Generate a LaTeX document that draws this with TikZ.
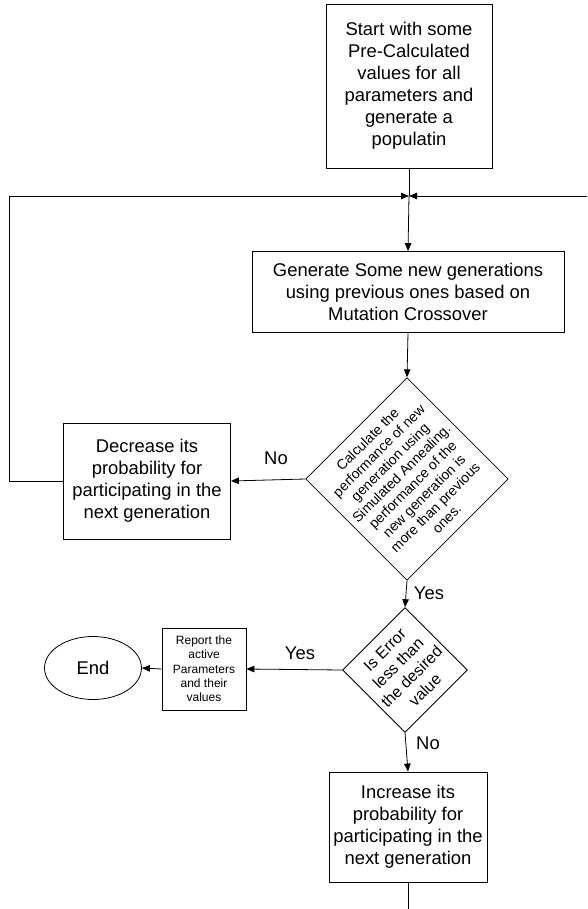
\documentclass[tikz,border=0pt]{standalone}
\usepackage{fontspec}
\setmainfont{Liberation Sans}
\usepackage{tikz}
\usetikzlibrary{arrows.meta, calc, shapes.geometric, positioning}

\tikzset{
  flowbox/.style={draw, line width=0.8pt, align=center, inner sep=2pt},
  decision/.style={draw, line width=0.8pt, rectangle, rotate=45, align=center, inner sep=0pt},
  flowarrow/.style={line width=0.8pt, -{Triangle[length=8pt, width=6.5pt]}},
  flowline/.style={line width=0.8pt},
  bigtext/.style={font=\fontsize{18.4}{22}\selectfont},
}

\begin{document}
\begin{tikzpicture}[x=1pt, y=-1pt]
\useasboundingbox (0,0) rectangle (587,909);
\node[flowbox, bigtext, minimum width=166, minimum height=164] (start) at (409,86)
  {Start with some\\Pre-Calculated\\values for all\\parameters and\\generate a\\populatin};
\node[flowbox, bigtext, minimum width=312, minimum height=81] (generate) at (408,292)
  {Generate Some new generations\\using previous ones based on\\Mutation Crossover};
\node[decision, minimum width=143, minimum height=143, font=\fontsize{14}{16}\selectfont] (calc) at (407,479)
  {Calculate the\\performance of new\\generation using\\Simulated Annealing.\\performance of the\\new generation is\\more than previous\\ones.};
\node[flowbox, bigtext, minimum width=167, minimum height=116] (decrease) at (147,481)
  {Decrease its\\probability for\\participating in the\\next generation};
\node[decision, minimum width=88, minimum height=88, font=\fontsize{16}{19}\selectfont] (test) at (405,670)
  {Is Error\\less than\\the desired\\value};
\node[flowbox, minimum width=84, minimum height=82, font=\fontsize{12}{14.3}\selectfont] (report) at (204,669)
  {Report the\\active\\Parameters\\and their\\values};
\node[draw, line width=0.8pt, ellipse, bigtext, minimum width=97, minimum height=63] (end) at (93,668) {End};
\node[flowbox, bigtext, minimum width=158, minimum height=110] (increase) at (408,827)
  {Increase its\\probability for\\participating in the\\next generation};

\node[bigtext] (nocalc) at (276,458) {No};
\node[bigtext] (yescalc) at (429,593) {Yes};
\node[bigtext] (yestest) at (300,653) {Yes};
\node[bigtext] (notest) at (428,743) {No};

\coordinate (join) at (409,196);
\coordinate (loopleft) at (9,196);
\coordinate (loopright) at (587,196);
\coordinate (loopdown) at (408,909);

\draw[flowline] (start.south) -- (join);
\draw[flowarrow] (decrease.west) -| (loopleft) -- (join);
\draw[flowarrow] (loopright) -- (join);
\draw[flowarrow] (join) -- (generate.north);
\draw[flowarrow] (generate.south) -- (calc.north east);
\draw[flowarrow] (calc.north west) -- (decrease.east);
\draw[flowarrow] (calc.south west) -- (test.north east);
\draw[flowarrow] (test.north west) -- (report.east);
\draw[flowarrow] (report.west) -- (end.east);
\draw[flowarrow] (test.south west) -- (increase.north);
\draw[flowline] (increase.south) -- (loopdown);
\end{tikzpicture}
\end{document}
